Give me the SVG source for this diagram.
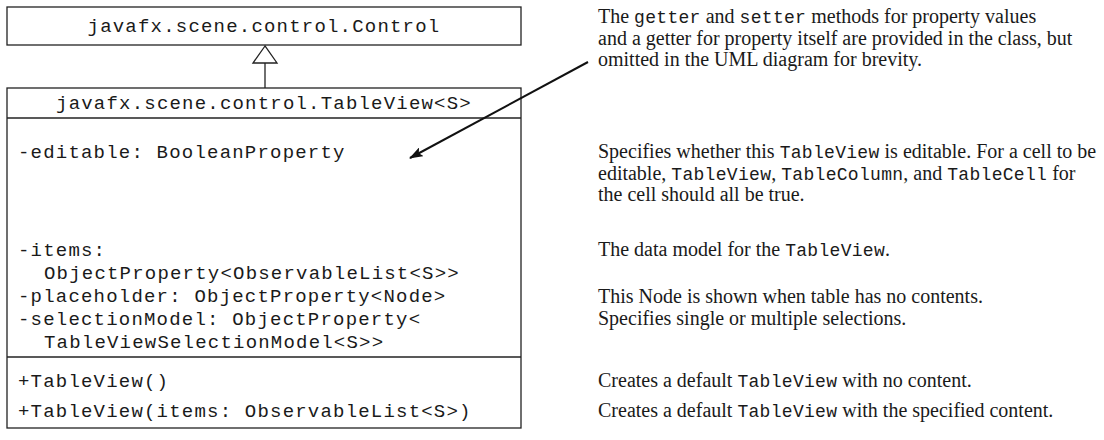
<svg xmlns="http://www.w3.org/2000/svg" width="1104" height="440" viewBox="0 0 1104 440">
<style>
.box{fill:#fff;stroke:#222;stroke-width:1.3}
.ln{stroke:#222;stroke-width:1.3;fill:none}
.mono{font-family:"Liberation Mono","DejaVu Sans Mono",monospace;font-size:19px;letter-spacing:1.2px;fill:#1a1a1a}
.ser{font-family:"Liberation Serif","Times New Roman",serif;font-size:20px;fill:#1a1a1a}
.m{font-family:"Liberation Mono","DejaVu Sans Mono",monospace;font-size:18px;letter-spacing:0.3px}
</style>
<defs>
<marker id="ah" viewBox="0 0 14 10" refX="13" refY="5" markerWidth="14" markerHeight="10" markerUnits="userSpaceOnUse" orient="auto">
<path d="M0,0 L14,5 L0,10 L3,5 Z" fill="#111"/>
</marker>
</defs>
<g id="control">
<rect class="box" x="7" y="7" width="514" height="38"/>
<text class="mono" x="264" y="32" text-anchor="middle">javafx.scene.control.Control</text>
</g>
<g id="tableview">
<rect class="box" x="7" y="88" width="514" height="340"/>
<line class="ln" x1="7" y1="118" x2="521" y2="118"/>
<line class="ln" x1="7" y1="357" x2="521" y2="357"/>
<text class="mono" x="264" y="109" text-anchor="middle">javafx.scene.control.TableView&lt;S&gt;</text>
<text class="mono" x="18" y="158">-editable: BooleanProperty</text>
<text class="mono" x="18" y="256">-items:</text>
<text class="mono" x="44" y="279">ObjectProperty&lt;ObservableList&lt;S&gt;&gt;</text>
<text class="mono" x="18" y="302">-placeholder: ObjectProperty&lt;Node&gt;</text>
<text class="mono" x="18" y="325">-selectionModel: ObjectProperty&lt;</text>
<text class="mono" x="44" y="348">TableViewSelectionModel&lt;S&gt;&gt;</text>
<text class="mono" x="18" y="387">+TableView()</text>
<text class="mono" x="18" y="417">+TableView(items: ObservableList&lt;S&gt;)</text>
</g>
<g id="connectors">
<line class="ln" x1="265" y1="63" x2="265" y2="88"/>
<polygon points="265,46 253,63 277,63" fill="#fff" stroke="#222" stroke-width="1.3"/>
<line x1="588" y1="62" x2="410" y2="158" stroke="#111" stroke-width="2" marker-end="url(#ah)"/>
</g>
<g id="notes">
<text class="ser" x="598" y="23">The <tspan class="m">getter</tspan> and <tspan class="m">setter</tspan> methods for property values</text>
<text class="ser" x="598" y="45">and a getter for property itself are provided in the class, but</text>
<text class="ser" x="598" y="66">omitted in the UML diagram for brevity.</text>
<text class="ser" x="598" y="158">Specifies whether this <tspan class="m">TableView</tspan> is editable. For a cell to be</text>
<text class="ser" x="598" y="180">editable, <tspan class="m">TableView</tspan>, <tspan class="m">TableColumn</tspan>, and <tspan class="m">TableCell</tspan> for</text>
<text class="ser" x="598" y="201">the cell should all be true.</text>
<text class="ser" x="598" y="256">The data model for the <tspan class="m">TableView</tspan>.</text>
<text class="ser" x="598" y="303">This Node is shown when table has no contents.</text>
<text class="ser" x="598" y="325">Specifies single or multiple selections.</text>
<text class="ser" x="598" y="387">Creates a default <tspan class="m">TableView</tspan> with no content.</text>
<text class="ser" x="598" y="417">Creates a default <tspan class="m">TableView</tspan> with the specified content.</text>
</g>
</svg>
